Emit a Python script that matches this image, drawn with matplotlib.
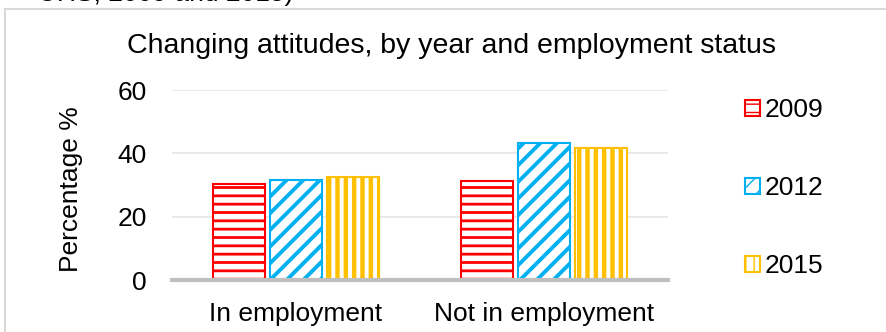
import numpy as np
import matplotlib.pyplot as plt
from matplotlib.patches import Rectangle

plt.rcParams['font.family'] = ['Liberation Sans', 'DejaVu Sans']

categories = ['In employment', 'Not in employment']
years = ['2009', '2012', '2015']
values = {
    '2009': [30.3, 31.3],
    '2012': [31.6, 43.4],
    '2015': [32.5, 41.6],
}
colors = {'2009': '#ff0000', '2012': '#00b0f0', '2015': '#ffc000'}
hatches = {'2009': '--', '2012': '//', '2015': '||'}
hatch_lw = {'2009': 2.0, '2012': 2.8, '2015': 3.2}

fs = 19

fig = plt.figure(figsize=(8.87, 3.32), dpi=100)

# outer chart frame, partly cut off on the right and bottom
fig.patches.append(Rectangle((5 / 887, -0.1), 1.2, 1.1 - 9 / 332,
                             transform=fig.transFigure, fill=False,
                             edgecolor='#d9d9d9', linewidth=1.5))
fig.text(38 / 887, 1 - 0.5 / 332, 'UHS, 2009 and 2015)', fontsize=fs,
         va='baseline', ha='left')

ax = fig.add_axes([172 / 887, 1 - 280 / 332, 496 / 887, 190 / 332])
x = np.arange(len(categories))
w = 0.206
offs = [-0.23, 0, 0.23]
for yr, off in zip(years, offs):
    bars = ax.bar(x + off, values[yr], w, facecolor='white',
                  edgecolor=colors[yr], hatch=hatches[yr], linewidth=1.5,
                  label=yr, zorder=3)
    for b in bars:
        b.set_hatch_linewidth(hatch_lw[yr])

ax.set_xlim(-0.5, 1.5)
ax.set_ylim(0, 60)
ax.set_yticks([0, 20, 40, 60])
ax.set_xticks(x)
ax.set_xticklabels(categories)
ax.tick_params(axis='both', length=0, labelsize=fs)
ax.tick_params(axis='y', pad=18)
ax.tick_params(axis='x', pad=16)
ax.grid(axis='y', color='#e6e6e6', linewidth=1.2, zorder=0)
for s in ['top', 'right', 'left']:
    ax.spines[s].set_visible(False)
ax.spines['bottom'].set_color('#bfbfbf')
ax.spines['bottom'].set_linewidth(3)
ax.spines['bottom'].set_zorder(4)
ax.set_ylabel('Percentage %', fontsize=fs)
ax.yaxis.set_label_coords(-0.18, 0.48)

fig.text(452 / 887, 1 - 46 / 332,
         'Changing attitudes, by year and employment status',
         fontsize=20.5, ha='center', va='center')

leg = fig.legend(loc='upper left', bbox_to_anchor=(745 / 887, 1 - 98 / 332),
                 fontsize=fs, frameon=False, handlelength=0.55,
                 handleheight=0.55, handletextpad=0.2, labelspacing=2.05,
                 borderpad=0, borderaxespad=0)

fig.savefig('out.png', dpi=100)
